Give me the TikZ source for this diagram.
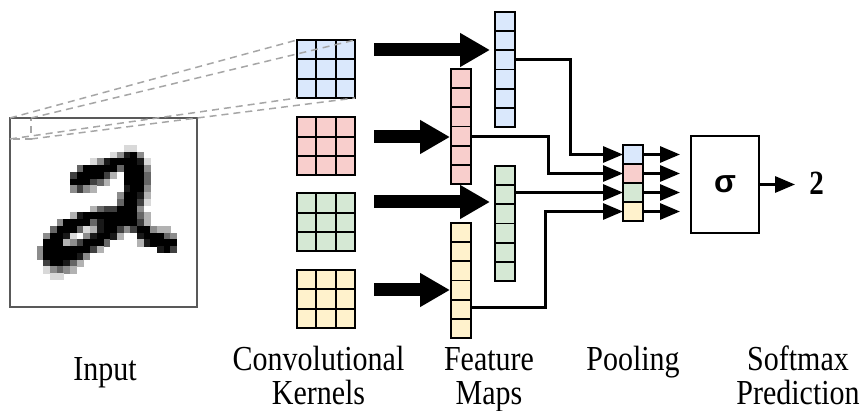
\documentclass[tikz,border=0pt]{standalone}
\usepackage{fontspec}
\usepackage{graphicx}
\setmainfont{Liberation Serif}
\newfontfamily\sigfont{Liberation Sans}
\usetikzlibrary{arrows.meta,calc}
\definecolor{kblue}{HTML}{DAE8FC}
\definecolor{kred}{HTML}{F8CECC}
\definecolor{kgreen}{HTML}{D5E8D4}
\definecolor{kyellow}{HTML}{FFF2CC}
\definecolor{dashgray}{HTML}{A6A6A6}
\definecolor{framegray}{HTML}{595959}
\def\pxw{6.6786}
\def\pxh{6.75}
\newcommand\vstr[1]{\scalebox{1}[1.17]{#1}}
\newcommand\pxrow[2]{\foreach \c/\v in {#2}{\pgfmathtruncatemacro\pct{min(100,\v*15)}\fill[black!\pct] ({10+\c*\pxw},{118+#1*\pxh}) rectangle ++({\pxw+0.3},{\pxh+0.3});}}
\begin{document}
\begin{tikzpicture}[x=1pt,y=-1pt,
  kernel/.style={draw=black,line width=2pt,minimum width=58pt,minimum height=58pt,inner sep=0pt,outer sep=0pt,anchor=north west},
  fmap/.style={draw=black,line width=1.8pt,minimum width=20pt,minimum height=115.2pt,inner sep=0pt,outer sep=0pt,anchor=north west},
  pcell/.style={draw=black,line width=1.5pt,minimum width=20pt,minimum height=19pt,inner sep=0pt,outer sep=0pt,anchor=north west},
  bigarrow/.style={line width=13pt,-{Triangle[length=30pt,width=32pt]}},
  conn/.style={line width=3pt,-{Triangle[length=20pt,width=16pt]}},
  dashline/.style={draw=dashgray,line width=1.5pt,dash pattern=on 7pt off 5pt},
  lbl/.style={font=\fontsize{30}{34}\selectfont,anchor=base,inner sep=0pt}]
\useasboundingbox (0,0) rectangle (863,411);
% input digit
\pxrow{4}{17/1,18/1}
\pxrow{5}{15/1,16/3,17/6,18/7,19/3}
\pxrow{6}{12/1,13/3,14/6,15/9,16/9,17/9,18/9,19/6,20/1}
\pxrow{7}{10/4,11/8,12/9,13/9,14/9,15/7,16/4,17/9,18/9,19/9,20/3}
\pxrow{8}{9/5,10/9,11/9,12/9,13/8,14/5,15/2,17/8,18/9,19/9,20/4}
\pxrow{9}{9/7,10/9,11/7,12/5,13/4,14/2,17/7,18/9,19/9,20/4}
\pxrow{10}{9/3,10/5,11/3,12/2,17/6,18/9,19/9,20/3}
\pxrow{11}{16/3,17/8,18/9,19/6,20/2}
\pxrow{12}{16/4,17/9,18/9,19/5,20/1}
\pxrow{13}{12/2,13/4,14/5,15/5,16/7,17/9,18/8,19/3}
\pxrow{14}{9/2,10/6,11/9,12/9,13/9,14/9,15/9,16/9,17/9,18/8,19/4,20/2}
\pxrow{15}{7/3,8/8,9/9,10/9,11/8,12/4,13/6,14/8,15/7,16/9,17/9,18/9,19/5,20/2}
\pxrow{16}{6/4,7/9,8/9,9/8,10/4,11/1,12/2,13/6,14/7,15/9,16/5,17/3,18/5,19/9,20/8,21/3,22/2,23/2}
\pxrow{17}{5/3,6/9,7/9,8/6,9/1,11/3,12/6,13/8,14/9,15/6,16/2,19/6,20/9,21/9,22/7,23/4,24/3}
\pxrow{18}{5/8,6/9,7/7,8/2,9/3,10/5,11/7,12/8,13/7,14/4,19/2,20/6,21/9,22/9,23/9,24/7}
\pxrow{19}{4/3,5/9,6/9,7/8,8/9,9/9,10/8,11/7,12/5,13/2,22/6,23/8,24/5}
\pxrow{20}{4/3,5/9,6/9,7/9,8/9,9/8,10/6,11/3}
\pxrow{21}{5/5,6/8,7/7,8/6,9/4,10/2}
\pxrow{22}{5/1,6/3,7/4,8/3,9/2}
\pxrow{23}{6/1,7/1}
% receptive field
\coordinate (rftl) at (10,118);
\coordinate (rftr) at (31,118);
\coordinate (rfbl) at (10,139);
\coordinate (rfbr) at (31,139);
\draw[dashline] (rftl) rectangle (rfbr);
\node[draw=framegray,line width=1.5pt,minimum width=187pt,minimum height=189pt,inner sep=0pt,outer sep=0pt,anchor=north west] (input) at (10,118) {};
% kernels
\node[kernel,fill=kblue] (k1) at (297,40) {};
\node[kernel,fill=kred] (k2) at (297,117.5) {};
\node[kernel,fill=kgreen] (k3) at (297,193.5) {};
\node[kernel,fill=kyellow] (k4) at (297,270) {};
\foreach \k in {k1,k2,k3,k4}{
  \foreach \i in {1,2}{
    \draw[line width=2pt] ($(\k.north west)+(\i*19.333,0)$) -- ($(\k.south west)+(\i*19.333,0)$);
    \draw[line width=2pt] ($(\k.north west)+(0,\i*19.333)$) -- ($(\k.north east)+(0,\i*19.333)$);
  }
}
% projection lines
\draw[dashline] (rftl) -- (k1.north west);
\draw[dashline] (rftr) -- (k1.north east);
\draw[dashline] (rfbl) -- (k1.south west);
\draw[dashline] (rfbr) -- (k1.south east);
% feature maps
\node[fmap,fill=kblue] (f1) at (495,12) {};
\node[fmap,fill=kred] (f2) at (451,69) {};
\node[fmap,fill=kgreen] (f3) at (495,166) {};
\node[fmap,fill=kyellow] (f4) at (451,223) {};
\foreach \f in {f1,f2,f3,f4}{
  \foreach \i in {1,...,5}{
    \draw[line width=1.8pt] ($(\f.north west)+(0,\i*19.2)$) -- ($(\f.north east)+(0,\i*19.2)$);
  }
}
% big arrows
\coordinate (a1) at (374,50);
\coordinate (a2) at (374,137);
\coordinate (a3) at (374,202);
\coordinate (a4) at (374,290);
\draw[bigarrow,shorten >=5pt] (a1) -- (f1.west |- a1);
\draw[bigarrow,shorten >=1pt] (a2) -- (f2.west |- a2);
\draw[bigarrow,shorten >=5pt] (a3) -- (f3.west |- a3);
\draw[bigarrow,shorten >=1pt] (a4) -- (f4.west |- a4);
% pooling
\node[pcell,fill=kblue] (p1) at (623,145) {};
\node[pcell,fill=kred] (p2) at (623,164) {};
\node[pcell,fill=kgreen] (p3) at (623,183) {};
\node[pcell,fill=kyellow] (p4) at (623,202) {};
% connectors to pooling
\draw[conn] ($(f1.north east)+(0,48)$) -| ($(p1.west)+(-53,0)$) -- (p1.west);
\draw[conn] ($(f2.north east)+(0,67.2)$) -| ($(p2.west)+(-75,0)$) -- (p2.west);
\draw[conn] (f3.east |- p3.west) -- (p3.west);
\draw[conn] ($(f4.north east)+(0,85)$) -| ($(p4.west)+(-78,0)$) -- (p4.west);
% softmax
\node[draw,line width=2pt,minimum width=68pt,minimum height=97pt,inner sep=0pt,outer sep=0pt,anchor=north west,font=\sigfont\bfseries\fontsize{32}{32}\selectfont] (s) at (691,136) {σ};
\foreach \p in {p1,p2,p3,p4}{
  \draw[conn,shorten >=11pt] (\p.east) -- (\p.east -| s.west);
}
\node[inner sep=0pt,anchor=base,font=\bfseries\fontsize{29}{34}\selectfont] (out) at (816.5,195) {\vstr{2}};
\draw[conn,shorten >=14pt] (s.east) -- (s.east -| out.west);
% labels
\node[lbl] (l1) at (105,381) {\vstr{Input}};
\node[lbl] (l2a) at (318.5,371) {\vstr{Convolutional}};
\node[lbl] (l2b) at (318.5,405) {\vstr{Kernels}};
\node[lbl] (l3a) at (489,371) {\vstr{Feature}};
\node[lbl] (l3b) at (489,405) {\vstr{Maps}};
\node[lbl] (l4) at (633,371) {\vstr{Pooling}};
\node[lbl] (l5a) at (798,371) {\vstr{Softmax}};
\node[lbl] (l5b) at (798,405) {\vstr{Prediction}};
\end{tikzpicture}
\end{document}
